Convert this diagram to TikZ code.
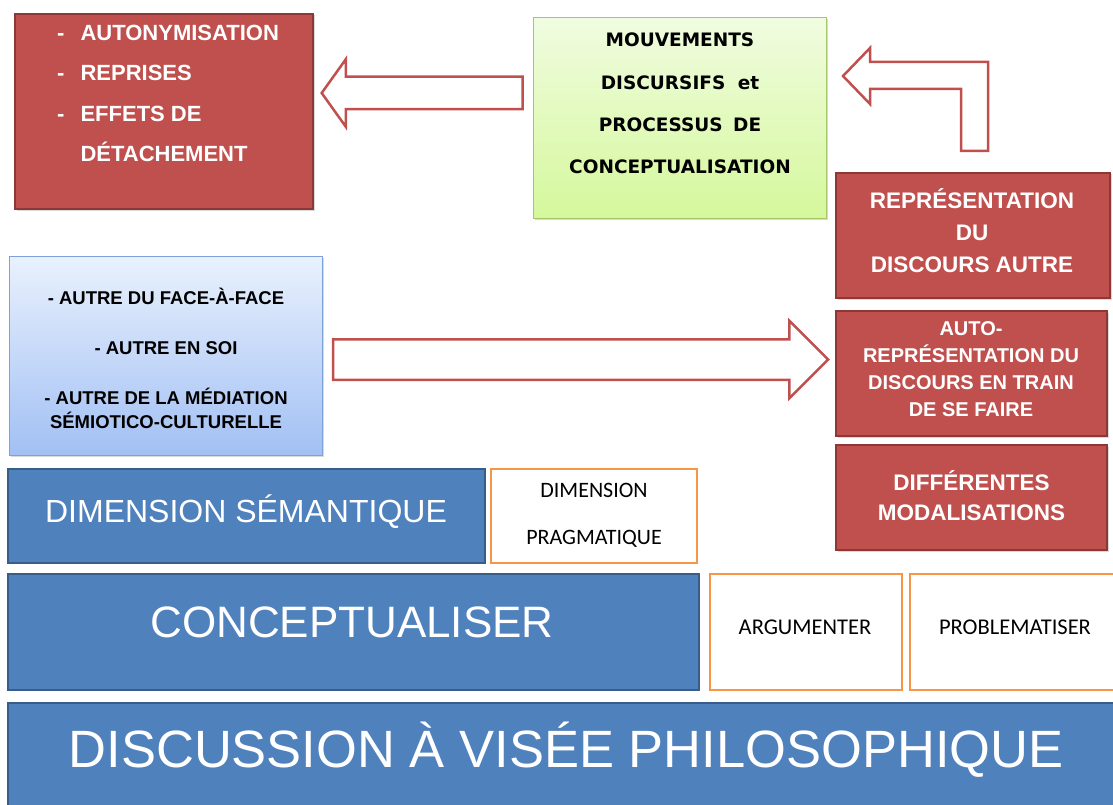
\documentclass[tikz,border=0pt]{standalone}
\usepackage{fontspec}
\setmainfont{Liberation Sans}
\newfontfamily\calibrifont{Carlito}
\newfontfamily\comicfont{DejaVu Sans}
\usetikzlibrary{shapes.arrows, shadows}

\definecolor{redfill}{HTML}{C0504D}
\definecolor{redline}{HTML}{8C3836}
\definecolor{bluefill}{HTML}{4F81BD}
\definecolor{blueline}{HTML}{385D8A}
\definecolor{orangeline}{HTML}{F79646}
\definecolor{greentop}{HTML}{F0FCE0}
\definecolor{greenbot}{HTML}{D5F89C}
\definecolor{greenline}{HTML}{A5C76A}
\definecolor{skytop}{HTML}{E9F1FD}
\definecolor{skybot}{HTML}{A2C0F4}
\definecolor{skyline}{HTML}{7DA2DA}
\definecolor{arrowline}{HTML}{C0504D}

\tikzset{
	panel/.style = {rectangle, inner sep = 0 pt, line width = 2 pt},
	softshadow/.style = {drop shadow = {shadow xshift = 1.5 pt, shadow yshift = -1.5 pt, opacity = 0.3}},
	redpanel/.style = {panel, draw = redline, fill = redfill, softshadow},
	bluepanel/.style = {panel, draw = blueline, fill = bluefill},
	orangepanel/.style = {panel, draw = orangeline, line width = 2.5 pt, fill = white},
	greenpanel/.style = {panel, draw = greenline, line width = 1 pt, top color = greentop, bottom color = greenbot, softshadow},
	skypanel/.style = {panel, draw = skyline, line width = 1 pt, top color = skytop, bottom color = skybot, softshadow},
	hollow/.style = {draw = arrowline, fill = white, line width = 2.5 pt},
	flatarrow/.style = {hollow, single arrow, single arrow head indent = 0 pt, inner xsep = 0 pt},
	whitetext/.style = {inner sep = 0 pt, text = white},
	blacktext/.style = {inner sep = 0 pt, text = black}
}

\begin{document}
\begin{tikzpicture}[x = 1pt, y = -1pt]

	\clip (0, 0) rectangle (1113, 805);

	% Top row

	\node [redpanel, minimum width = 298, minimum height = 195] (autonym) at (164, 111.5) {};
	\node [whitetext, anchor = north west, align = left, font = {\bfseries\fontsize{22}{40.3}\selectfont}] (autonymtext) at (57, 25)
		{-\hspace{16pt}AUTONYMISATION\\ -\hspace{16pt}REPRISES\\ -\hspace{16pt}EFFETS DE\\ \hphantom{-}\hspace{16pt}DÉTACHEMENT};

	\node [greenpanel, minimum width = 293, minimum height = 200] (mouvements) at (679.5, 118) {};
	\node [blacktext, anchor = north, align = center, font = {\comicfont\bfseries\fontsize{18.5}{42.3}\selectfont}] (mouvementstext) at (680, 33)
		{MOUVEMENTS\\ DISCURSIFS\hspace{6pt} et\\ PROCESSUS\hspace{4pt} DE\\ CONCEPTUALISATION};

	\node [redpanel, minimum width = 274, minimum height = 125] (discoursautre) at (973, 235.5) {};
	\node [whitetext, align = center, font = {\bfseries\fontsize{22.5}{32}\selectfont}] (discoursautretext) at (972, 231)
		{REPRÉSENTATION\\ DU\\ DISCOURS AUTRE};

	% Arrows

	\node [flatarrow, rotate = 180, inner ysep = 15 pt, minimum height = 201, minimum width = 65, single arrow head extend = 17.5, single arrow tip angle = 109] (backarrow) at (428, 93) {};

	\draw [hollow] (843, 76) -- (870, 48) -- (870, 62) -- (988, 62) -- (988, 151) -- (961, 151) -- (961, 89) -- (870, 89) -- (870, 104) -- cycle;

	\node [flatarrow, inner ysep = 19 pt, minimum height = 495, minimum width = 75, single arrow head extend = 18.5, single arrow tip angle = 90] (otherarrow) at (570.5, 359.5) {};

	% Middle row

	\node [skypanel, minimum width = 313, minimum height = 199] (autre) at (165.5, 355.5) {};
	\node [blacktext, align = center, font = {\bfseries\fontsize{18.5}{24}\selectfont}] (autretext) at (166, 358)
		{- AUTRE DU FACE-À-FACE\\[26pt] - AUTRE EN SOI\\[26pt] - AUTRE DE LA MÉDIATION\\ SÉMIOTICO-CULTURELLE};

	\node [redpanel, minimum width = 271, minimum height = 125] (autorepr) at (971.5, 373.5) {};
	\node [whitetext, align = center, font = {\bfseries\fontsize{20}{27}\selectfont}] (autoreprtext) at (971, 369.5)
		{AUTO-\\ REPRÉSENTATION DU\\ DISCOURS EN TRAIN\\ DE SE FAIRE};

	\node [redpanel, minimum width = 271, minimum height = 105] (modal) at (971.5, 497.5) {};
	\node [whitetext, align = center, font = {\bfseries\fontsize{22.5}{30}\selectfont}] (modaltext) at (971.5, 496)
		{DIFFÉRENTES\\ MODALISATIONS};

	% Base

	\node [bluepanel, minimum width = 477, minimum height = 94] (semantique) at (246.5, 516) {};
	\node [whitetext, text height = 22.9, text depth = 0, font = {\fontsize{32}{38}\selectfont}] (semantiquetext) at (246, 511) {DIMENSION SÉMANTIQUE};

	\node [orangepanel, minimum width = 206, minimum height = 94] (pragmatique) at (594, 516) {};
	\node [blacktext, align = center, font = {\calibrifont\fontsize{22}{47}\selectfont}] (pragmatiquetext) at (594, 515)
		{DIMENSION\\ PRAGMATIQUE};

	\node [bluepanel, minimum width = 691, minimum height = 116] (concept) at (353.5, 632) {};
	\node [whitetext, text height = 31.5, text depth = 0, font = {\fontsize{44}{50}\selectfont}] (concepttext) at (352, 622) {CONCEPTUALISER};

	\node [orangepanel, minimum width = 192, minimum height = 116] (argumenter) at (806, 632) {};
	\node [blacktext, text height = 14.5, text depth = 0, font = {\calibrifont\fontsize{22.5}{27}\selectfont}] (argumentertext) at (805, 627) {ARGUMENTER};

	\node [orangepanel, minimum width = 208, minimum height = 116] (problem) at (1014, 632) {};
	\node [blacktext, text height = 14.5, text depth = 0, font = {\calibrifont\fontsize{22.5}{27}\selectfont}] (problemtext) at (1015, 627) {PROBLEMATISER};

	\node [bluepanel, minimum width = 1112, minimum height = 112] (discussion) at (564, 759) {};
	\node [whitetext, text height = 38, text depth = 0, font = {\fontsize{52.5}{60}\selectfont}] (discussiontext) at (566, 748) {DISCUSSION À VISÉE PHILOSOPHIQUE};

\end{tikzpicture}
\end{document}
